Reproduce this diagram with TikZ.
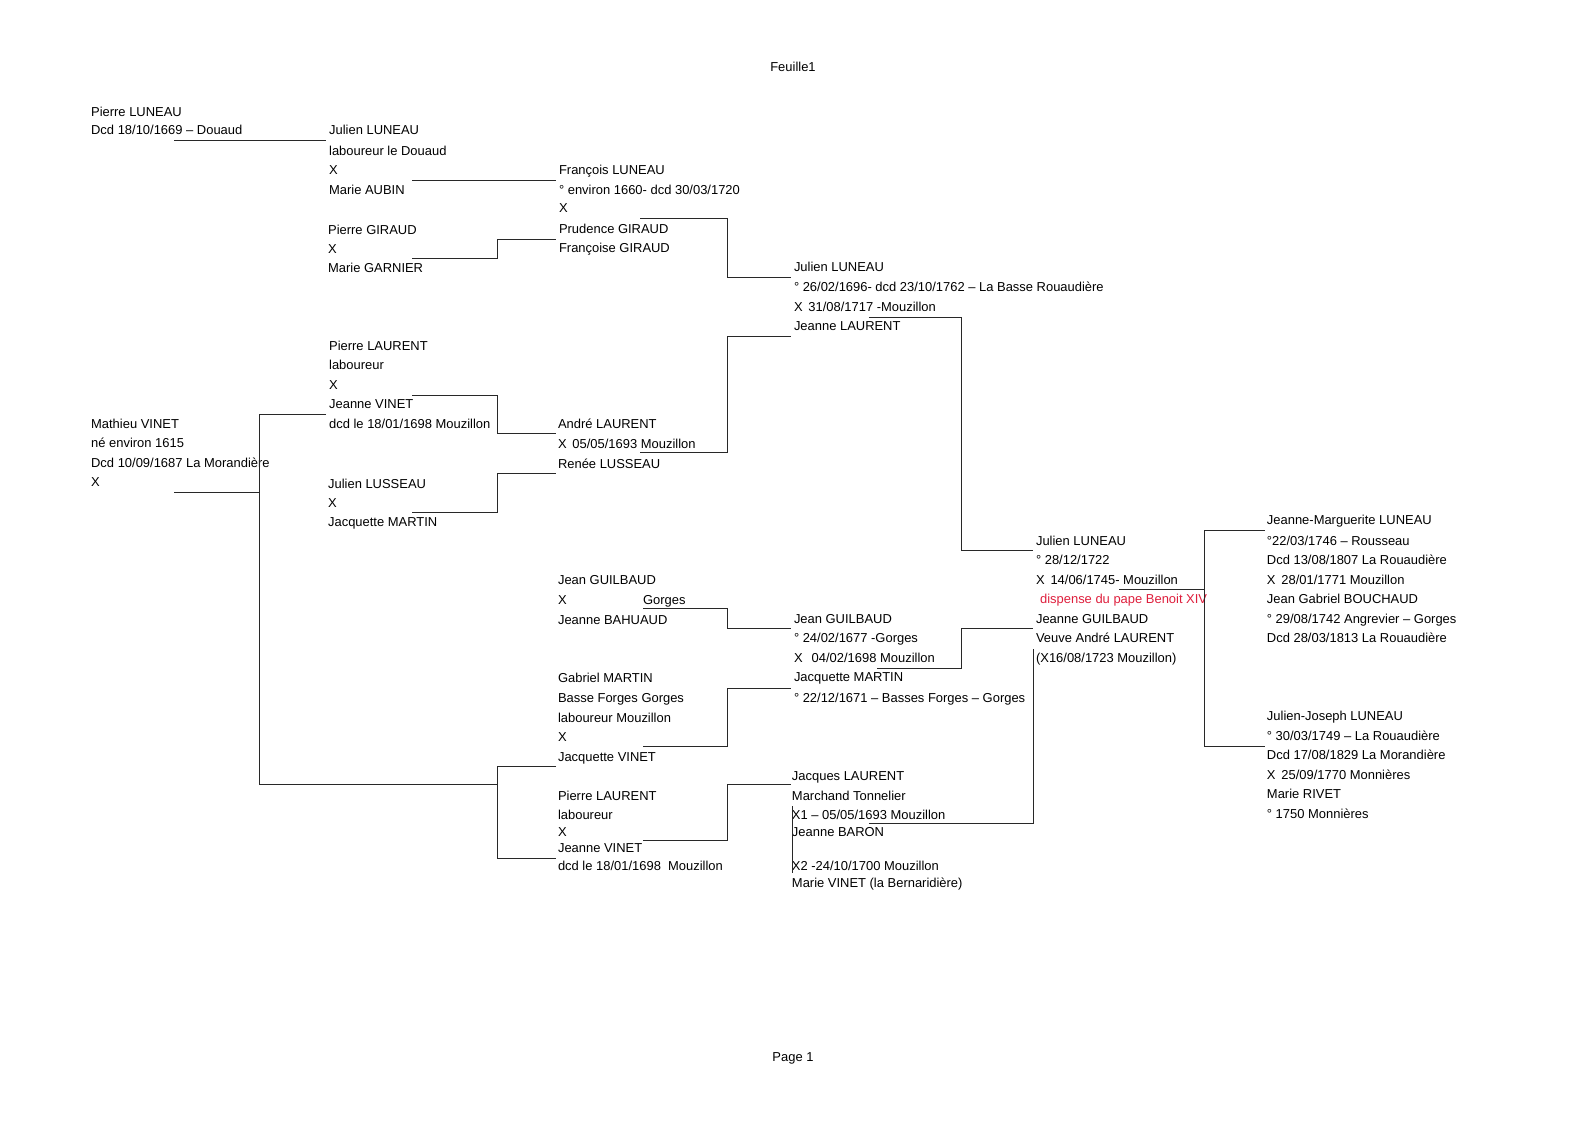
\documentclass[tikz,border=0pt]{standalone}
\usepackage{fontspec}
\setmainfont{Liberation Sans}
\definecolor{dispred}{RGB}{222,30,60}
\definecolor{lnc}{RGB}{40,40,40}
\tikzset{
  txt/.style={anchor=base west, inner sep=0pt, outer sep=0pt, font=\fontsize{12.95}{15}\selectfont},
  ctr/.style={anchor=base, inner sep=0pt, outer sep=0pt, font=\fontsize{12.95}{15}\selectfont},
  link/.style={draw=lnc, line width=0.9pt}
}
\newcommand\tl[4]{\node[txt] (#1) at (#2,#3+5.2) {#4};}
\begin{document}
\begin{tikzpicture}[x=1.0128pt,y=-1.0128pt]
\useasboundingbox (0,0) rectangle (1568,1109);
\node[ctr] (title) at (783,70.2) {Feuille1};
\node[ctr] (page) at (783,1048.2) {Page 1};
% Block A
\tl{a1}{90}{110}{Pierre LUNEAU}
\tl{a2}{90}{128}{Dcd 18/10/1669 – Douaud}
% Block B
\tl{b1}{325}{128}{Julien LUNEAU}
\tl{b2}{325}{148}{laboureur le Douaud}
\tl{b3}{325}{167}{X}
\tl{b4}{325}{187}{Marie AUBIN}
% Block C
\tl{c1}{552}{167}{François LUNEAU}
\tl{c2}{552}{187}{° environ 1660- dcd 30/03/1720}
\tl{c3}{552}{205}{X}
\tl{c4}{552}{225}{Prudence GIRAUD}
\tl{c5}{552}{244}{Françoise GIRAUD}
% Block D
\tl{d1}{324}{226}{Pierre GIRAUD}
\tl{d2}{324}{245}{X}
\tl{d3}{324}{264}{Marie GARNIER}
% Block E
\tl{e1}{784}{263}{Julien LUNEAU}
\tl{e2}{784}{283}{° 26/02/1696- dcd 23/10/1762 – La Basse Rouaudière}
\tl{e3}{784}{302}{X\hspace{0.45em}31/08/1717 -Mouzillon}
\tl{e4}{784}{321}{Jeanne LAURENT}
% Block F
\tl{f1}{325}{341}{Pierre LAURENT}
\tl{f2}{325}{360}{laboureur}
\tl{f3}{325}{379}{X}
\tl{f4}{325}{398}{Jeanne VINET}
\tl{f5}{325}{418}{dcd le 18/01/1698 Mouzillon}
% Block G
\tl{g1}{90}{418}{Mathieu VINET}
\tl{g2}{90}{437}{né environ 1615}
\tl{g3}{90}{456}{Dcd 10/09/1687 La Morandière}
\tl{g4}{90}{475}{X}
% Block H
\tl{h1}{551}{418}{André LAURENT}
\tl{h2}{551}{438}{X\hspace{0.45em}05/05/1693 Mouzillon}
\tl{h3}{551}{457}{Renée LUSSEAU}
% Block I
\tl{i1}{324}{477}{Julien LUSSEAU}
\tl{i2}{324}{496}{X}
\tl{i3}{324}{515}{Jacquette MARTIN}
% Block J
\tl{j1}{551}{572}{Jean GUILBAUD}
\tl{j2}{551}{592}{X}
\tl{j2b}{635}{592}{Gorges}
\tl{j3}{551}{611}{Jeanne BAHUAUD}
% Block K
\tl{k1}{784}{610}{Jean GUILBAUD}
\tl{k2}{784}{629}{° 24/02/1677 -Gorges}
\tl{k3}{784}{649}{X\hspace{0.7em}04/02/1698 Mouzillon}
\tl{k4}{784}{668}{Jacquette MARTIN}
\tl{k5}{784}{688}{° 22/12/1671 – Basses Forges – Gorges}
% Block L
\tl{l1}{551}{669}{Gabriel MARTIN}
\tl{l2}{551}{688}{Basse Forges Gorges}
\tl{l3}{551}{708}{laboureur Mouzillon}
\tl{l4}{551}{727}{X}
\tl{l5}{551}{747}{Jacquette VINET}
% Block M
\tl{m1}{551}{785}{Pierre LAURENT}
\tl{m2}{551}{804}{laboureur}
\tl{m3}{551}{821}{X}
\tl{m4}{551}{837}{Jeanne VINET}
\tl{m5}{551}{854}{dcd le 18/01/1698\ \ Mouzillon}
% Block N
\tl{n1}{782}{765}{Jacques LAURENT}
\tl{n2}{782}{785}{Marchand Tonnelier}
\tl{n3}{782}{804}{X1 – 05/05/1693 Mouzillon}
\tl{n4}{782}{821}{Jeanne BARON}
\tl{n5}{782}{854}{X2 -24/10/1700 Mouzillon}
\tl{n6}{782}{871}{Marie VINET (la Bernaridière)}
% Block O
\tl{o1}{1023}{533}{Julien LUNEAU}
\tl{o2}{1023}{552}{° 28/12/1722}
\tl{o3}{1023}{572}{X\hspace{0.45em}14/06/1745- Mouzillon}
\node[txt,text=dispred] (o4) at (1027,596.2) {dispense du pape Benoit XIV};
\tl{o5}{1023}{610}{Jeanne GUILBAUD}
\tl{o6}{1023}{629}{Veuve André LAURENT}
\tl{o7}{1023}{649}{(X16/08/1723 Mouzillon)}
% Block P
\tl{p1}{1251}{513}{Jeanne-Marguerite LUNEAU}
\tl{p2}{1251}{533}{°22/03/1746 – Rousseau}
\tl{p3}{1251}{552}{Dcd 13/08/1807 La Rouaudière}
\tl{p4}{1251}{572}{X\hspace{0.45em}28/01/1771 Mouzillon}
\tl{p5}{1251}{591}{Jean Gabriel BOUCHAUD}
\tl{p6}{1251}{610}{° 29/08/1742 Angrevier – Gorges}
\tl{p7}{1251}{629}{Dcd 28/03/1813 La Rouaudière}
% Block Q
\tl{q1}{1251}{706}{Julien-Joseph LUNEAU}
\tl{q2}{1251}{726}{° 30/03/1749 – La Rouaudière}
\tl{q3}{1251}{745}{Dcd 17/08/1829 La Morandière}
\tl{q4}{1251}{764}{X\hspace{0.45em}25/09/1770 Monnières}
\tl{q5}{1251}{783}{Marie RIVET}
\tl{q6}{1251}{803}{° 1750 Monnières}
% connector coordinates
\coordinate (s1) at (172,139); \coordinate (e1c) at (322,139);
\coordinate (s2) at (407,178); \coordinate (e2c) at (549,178);
\coordinate (s3) at (407,255); \coordinate (j3c) at (491,245); \coordinate (e3c) at (549,236);
\coordinate (s4) at (632,216); \coordinate (j4c) at (718,245); \coordinate (e4c) at (781,274);
\coordinate (s5) at (858,313); \coordinate (j5c) at (949,430); \coordinate (e5c) at (1020,544);
\coordinate (s6) at (632,447); \coordinate (j6c) at (718,390); \coordinate (e6c) at (781,332);
\coordinate (s7) at (407,390); \coordinate (j7c) at (491,410); \coordinate (e7c) at (549,428);
\coordinate (s8) at (407,506); \coordinate (j8c) at (491,486); \coordinate (e8c) at (549,467);
\coordinate (s9) at (172,486); \coordinate (j9a) at (256,486);
\coordinate (t9) at (322,409); \coordinate (j9b) at (256,600); \coordinate (e9c) at (491,775);
\coordinate (u9) at (549,757); \coordinate (j9c) at (491,800); \coordinate (v9) at (549,848);
\coordinate (s10) at (635,601); \coordinate (j10c) at (718,611); \coordinate (e10c) at (781,621);
\coordinate (s11) at (866,660); \coordinate (j11c) at (949,640); \coordinate (e11c) at (1020,621);
\coordinate (s12) at (635,737); \coordinate (j12c) at (718,708); \coordinate (e12c) at (781,680);
\coordinate (s13) at (635,830); \coordinate (j13c) at (718,800); \coordinate (e13c) at (781,775);
\coordinate (s14) at (782,796); \coordinate (e14c) at (782,862);
\coordinate (s15) at (858,813); \coordinate (e15c) at (1020,641);
\coordinate (s16) at (1105,582); \coordinate (j16a) at (1189,582);
\coordinate (t16) at (1249,524); \coordinate (j16b) at (1189,630); \coordinate (e16c) at (1249,737);
% connectors
\draw[link] (s1) -- (e1c);
\draw[link] (s2) -- (e2c);
\draw[link] (s3) -| (j3c) |- (e3c);
\draw[link] (s4) -| (j4c) |- (e4c);
\draw[link] (s5) -| (j5c) |- (e5c);
\draw[link] (s6) -| (j6c) |- (e6c);
\draw[link] (s7) -| (j7c) |- (e7c);
\draw[link] (s8) -| (j8c) |- (e8c);
\draw[link] (s9) -- (j9a);
\draw[link] (t9) -| (j9b) |- (e9c);
\draw[link] (u9) -| (j9c) |- (v9);
\draw[link] (s10) -| (j10c) |- (e10c);
\draw[link] (s11) -| (j11c) |- (e11c);
\draw[link] (s12) -| (j12c) |- (e12c);
\draw[link] (s13) -| (j13c) |- (e13c);
\draw[link] (s14) -- (e14c);
\draw[link] (s15) -| (e15c);
\draw[link] (s16) -- (j16a);
\draw[link] (t16) -| (j16b) |- (e16c);
\end{tikzpicture}
\end{document}
